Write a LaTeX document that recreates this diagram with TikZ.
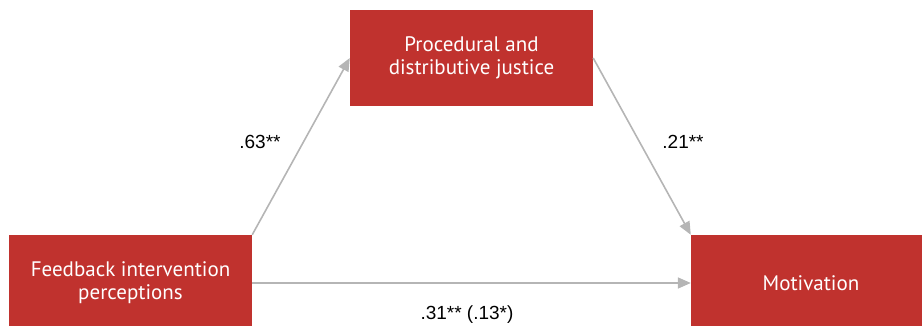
\documentclass[tikz,border=0pt]{standalone}
\usepackage{fontspec}
\setmainfont{Liberation Sans}
\newfontfamily\boxfont{PT Sans}
\usetikzlibrary{arrows.meta}
\definecolor{boxred}{HTML}{C0322E}
\definecolor{arrowgray}{HTML}{B5B5B5}
\begin{document}
\begin{tikzpicture}[x=1pt,y=-1pt,
  redbox/.style={fill=boxred, draw=none, text=white, font=\boxfont\fontsize{21}{23}\selectfont, align=center, inner sep=0pt},
  conn/.style={draw=arrowgray, line width=1.6pt, -{Triangle[length=13pt,width=11pt]}},
  lbl/.style={font=\fontsize{19}{21}\selectfont, text=black}]
\useasboundingbox (0,0) rectangle (922,326);
\node[redbox, minimum width=243pt, minimum height=96pt] (pj) at (471.5,58) {Procedural and\\distributive justice};
\node[redbox, minimum width=243pt, minimum height=96pt] (fi) at (130.5,283) {Feedback intervention\\perceptions};
\node[redbox, minimum width=240pt, minimum height=96pt] (mo) at (811,283) {Motivation};
\draw[conn] (fi.north east) -- (pj.west);
\draw[conn] (pj.east) -- (mo.north west);
\draw[conn] (fi.east) -- (mo.west);
\node[lbl] (l1) at (260,142) {.63**};
\node[lbl] (l2) at (683,142) {.21**};
\node[lbl] (l3) at (467,315) {.31** (.13*)};
\end{tikzpicture}
\end{document}
